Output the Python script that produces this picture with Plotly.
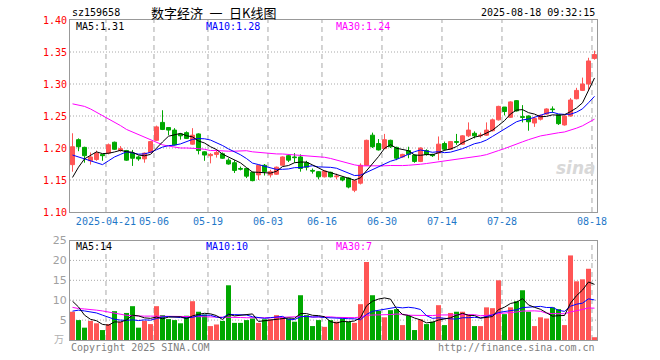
import pandas as pd
import plotly.graph_objects as go

# ---------------- data ----------------
holidays = ["2025-05-01", "2025-05-02", "2025-05-05", "2025-06-02"]
dates = [d.strftime("%Y-%m-%d") for d in pd.bdate_range("2025-04-11", "2025-08-18")
         if d.strftime("%Y-%m-%d") not in holidays]

opens = [1.174, 1.213, 1.201, 1.180, 1.182, 1.190, 1.192, 1.209, 1.196, 1.196,
         1.192, 1.186, 1.183, 1.193, 1.212, 1.240, 1.232, 1.228, 1.222, 1.224,
         1.206, 1.222, 1.194, 1.188, 1.190, 1.191, 1.181, 1.177, 1.168, 1.168,
         1.162, 1.158, 1.173, 1.158, 1.159, 1.173, 1.188, 1.186, 1.186, 1.177,
         1.165, 1.163, 1.155, 1.162, 1.155, 1.154, 1.153, 1.134, 1.145, 1.173,
         1.220, 1.207, 1.199, 1.212, 1.201, 1.186, 1.196, 1.189, 1.179, 1.196,
         1.190, 1.192, 1.207, 1.198, 1.210, 1.206, 1.219, 1.223, 1.219, 1.220,
         1.227, 1.244, 1.264, 1.248, 1.274, 1.249, 1.250, 1.239, 1.245, 1.253,
         1.261, 1.252, 1.236, 1.250, 1.277, 1.290, 1.300, 1.340]
highs = [1.223, 1.215, 1.202, 1.193, 1.196, 1.190, 1.207, 1.210, 1.203, 1.197,
         1.197, 1.188, 1.193, 1.211, 1.235, 1.259, 1.232, 1.231, 1.223, 1.226,
         1.231, 1.223, 1.195, 1.192, 1.198, 1.193, 1.184, 1.181, 1.171, 1.168,
         1.163, 1.174, 1.175, 1.166, 1.171, 1.187, 1.190, 1.192, 1.190, 1.180,
         1.168, 1.164, 1.165, 1.163, 1.160, 1.155, 1.154, 1.150, 1.176, 1.213,
         1.224, 1.214, 1.222, 1.213, 1.202, 1.191, 1.202, 1.190, 1.201, 1.198,
         1.191, 1.218, 1.210, 1.211, 1.222, 1.220, 1.240, 1.226, 1.224, 1.240,
         1.246, 1.266, 1.264, 1.273, 1.275, 1.267, 1.251, 1.249, 1.252, 1.262,
         1.265, 1.252, 1.251, 1.278, 1.294, 1.310, 1.341, 1.352]
lows = [1.163, 1.195, 1.177, 1.174, 1.180, 1.180, 1.190, 1.197, 1.194, 1.180,
        1.172, 1.180, 1.177, 1.192, 1.211, 1.228, 1.220, 1.204, 1.213, 1.214,
        1.205, 1.190, 1.180, 1.176, 1.185, 1.183, 1.174, 1.161, 1.165, 1.153,
        1.148, 1.150, 1.157, 1.154, 1.158, 1.173, 1.178, 1.177, 1.163, 1.165,
        1.160, 1.151, 1.154, 1.154, 1.151, 1.148, 1.137, 1.131, 1.143, 1.173,
        1.200, 1.196, 1.199, 1.200, 1.181, 1.185, 1.184, 1.177, 1.178, 1.188,
        1.186, 1.181, 1.196, 1.197, 1.205, 1.205, 1.217, 1.215, 1.216, 1.219,
        1.226, 1.243, 1.251, 1.247, 1.257, 1.240, 1.227, 1.233, 1.243, 1.252,
        1.255, 1.236, 1.235, 1.249, 1.276, 1.289, 1.291, 1.338]
closes = [1.202, 1.202, 1.188, 1.186, 1.192, 1.188, 1.205, 1.198, 1.199, 1.181,
          1.184, 1.183, 1.192, 1.210, 1.233, 1.229, 1.228, 1.205, 1.219, 1.215,
          1.220, 1.196, 1.189, 1.190, 1.193, 1.184, 1.175, 1.165, 1.167, 1.156,
          1.149, 1.173, 1.163, 1.163, 1.170, 1.186, 1.181, 1.185, 1.168, 1.170,
          1.164, 1.155, 1.164, 1.155, 1.156, 1.150, 1.139, 1.149, 1.173, 1.212,
          1.202, 1.197, 1.213, 1.202, 1.184, 1.190, 1.190, 1.179, 1.200, 1.190,
          1.188, 1.206, 1.198, 1.210, 1.209, 1.219, 1.228, 1.219, 1.220, 1.228,
          1.244, 1.265, 1.257, 1.272, 1.258, 1.248, 1.241, 1.246, 1.251, 1.261,
          1.260, 1.238, 1.250, 1.275, 1.290, 1.300, 1.336, 1.346]
volumes = [7.1, 5.0, 3.1, 4.8, 4.2, 2.5, 4.0, 7.25, 4.6, 6.8,
           8.5, 3.1, 4.8, 4.0, 8.5, 6.25, 5.25, 5.0, 4.2, 6.1,
           9.75, 7.1, 6.4, 3.5, 3.9, 4.8, 13.75, 4.3, 4.3, 5.0,
           5.4, 4.3, 5.2, 5.2, 6.25, 5.7, 5.4, 4.6, 11.25, 6.25,
           3.5, 5.0, 3.3, 5.0, 4.6, 5.4, 4.6, 4.3, 9.0, 19.6,
           11.25, 7.3, 5.7, 7.5, 7.75, 3.75, 6.1, 2.5, 5.2, 4.0,
           4.6, 8.75, 3.75, 6.8, 7.1, 7.1, 6.25, 3.5, 3.5, 8.2,
           8.0, 15.0, 6.5, 8.2, 9.75, 12.5, 7.1, 3.5, 5.7, 5.4,
           8.2, 7.75, 3.75, 21.25, 14.75, 15.25, 17.9, 0.7]

# moving averages at the start of the window (earlier history not shown)
ma5_head = [1.154, 1.170, 1.183, 1.189]
ma10_head = [1.189, 1.186, 1.183, 1.180, 1.177, 1.174, 1.180, 1.186, 1.190]
ma30_head = [1.269, 1.267, 1.265, 1.261, 1.256, 1.251, 1.246, 1.240, 1.235, 1.229,
             1.225, 1.221, 1.217, 1.212, 1.208, 1.205, 1.203, 1.201, 1.200, 1.200,
             1.200, 1.199, 1.198, 1.196, 1.196, 1.195, 1.195, 1.195, 1.195]
vma5_head = [9.75, 8.3, 6.25, 5.2]
vma10_head = [7.25, 7.5, 7.3, 7.1, 6.8, 6.25, 5.7, 5.2, 5.0]
vma30_head = [8.2, 7.9, 7.8, 7.7, 7.5, 7.3, 7.0, 6.7, 6.4, 6.2,
              6.1, 6.0, 6.0, 6.0, 6.0, 6.0, 6.0, 5.95, 5.9, 5.9,
              5.9, 5.9, 5.85, 5.8, 5.8, 5.75, 5.7, 5.7, 5.65]

price_ticks = [1.10, 1.15, 1.20, 1.25, 1.30, 1.35, 1.40]
volume_ticks = [5, 10, 15, 20, 25]
tick_dates = ["2025-04-21", "2025-05-06", "2025-05-19", "2025-06-03", "2025-06-16",
              "2025-06-30", "2025-07-14", "2025-07-28", "2025-08-18"]
tick_labels = ["2025-04-21", "05-06", "05-19", "06-03", "06-16",
               "06-30", "07-14", "07-28", "08-18"]

# ---------------- derived ----------------
def moving(values, n, head):
    s = pd.Series(values).rolling(n).mean().tolist()
    s[:len(head)] = head
    return s

ma5 = moving(closes, 5, ma5_head)
ma10 = moving(closes, 10, ma10_head)
ma30 = moving(closes, 30, ma30_head)
vma5 = moving(volumes, 5, vma5_head)
vma10 = moving(volumes, 10, vma10_head)
vma30 = moving(volumes, 30, vma30_head)

n = len(dates)
xs = list(range(n))
RED = "#ff5555"
GREEN = "#00a800"
up = [c >= o for o, c in zip(opens, closes)]
vol_colors = [RED if u else GREEN for u in up]
tickpos = [dates.index(d) - 0.42 for d in tick_dates]

L, R, T, B = 70, 597, 20, 340
W, H = 660, 360


def px(x):
    return (x - L) / (R - L)


def py(y):
    return (B - y) / (B - T)


fig = go.Figure()
fig.add_trace(go.Candlestick(
    x=xs, open=opens, high=highs, low=lows, close=closes,
    increasing=dict(line=dict(color=RED, width=1), fillcolor=RED),
    decreasing=dict(line=dict(color=GREEN, width=1), fillcolor=GREEN),
    whiskerwidth=0, xaxis="x", yaxis="y", hoverinfo="skip", showlegend=False))
for vals, col in [(ma30, "#ff00ff"), (ma10, "#0000ff"), (ma5, "#000000")]:
    fig.add_trace(go.Scatter(x=xs, y=vals, mode="lines", line=dict(color=col, width=1),
                             xaxis="x", yaxis="y", hoverinfo="skip", showlegend=False))

fig.add_trace(go.Bar(x=xs, y=volumes, width=5 / 6, marker=dict(color=vol_colors, line=dict(width=0)),
                     xaxis="x2", yaxis="y2", hoverinfo="skip", showlegend=False))
for vals, col in [(vma30, "#ff00ff"), (vma10, "#0000ff"), (vma5, "#000000")]:
    fig.add_trace(go.Scatter(x=xs, y=vals, mode="lines", line=dict(color=col, width=1),
                             xaxis="x2", yaxis="y2", hoverinfo="skip", showlegend=False))

xr = [-0.4167, n - 1 + 0.4167]
axis_common = dict(showline=True, linecolor="#999999", linewidth=1, mirror=True, zeroline=False,
                   ticks="", showgrid=False, fixedrange=True)
MONO = "DejaVu Sans Mono"
GRID = "#a8a8a8"

fig.update_layout(
    width=W, height=H,
    margin=dict(l=L, r=W - R, t=T, b=H - B, autoexpand=False),
    paper_bgcolor="white", plot_bgcolor="white",
    boxgap=0.333, boxgroupgap=0,
    showlegend=False, hovermode=False,
    xaxis=dict(domain=[0, 1], range=xr, anchor="y", rangeslider=dict(visible=False),
               tickmode="array", tickvals=tickpos, ticktext=tick_labels, tickangle=0,
               tickfont=dict(family=MONO, size=10, color="#1f78c8"), **axis_common),
    yaxis=dict(domain=[py(212), 1], range=[1.10, 1.40], anchor="x",
               tickmode="array", tickvals=price_ticks,
               ticktext=["%.2f" % v for v in price_ticks],
               tickfont=dict(family=MONO, size=10, color="#ff0000"), **axis_common),
    xaxis2=dict(domain=[0, 1], range=xr, anchor="y2", tickmode="array", tickvals=tickpos,
                showticklabels=False, **axis_common),
    yaxis2=dict(domain=[0, py(240.5)], range=[0, 25], anchor="x2",
                tickmode="array", tickvals=volume_ticks,
                ticktext=[str(v) for v in volume_ticks],
                tickfont=dict(family="DejaVu Sans", size=11, color="#a0a0a0"), **axis_common),
)

# grid lines
for v in price_ticks[1:-1]:
    fig.add_shape(type="line", xref="x domain", yref="y", x0=0, x1=1, y0=v, y1=v,
                  line=dict(color=GRID, width=1, dash="1px,2px"), layer="below")
for v in volume_ticks[:-1]:
    fig.add_shape(type="line", xref="x2 domain", yref="y2", x0=0, x1=1, y0=v, y1=v,
                  line=dict(color=GRID, width=1, dash="1px,2px"), layer="below")
for p in tickpos:
    for xa, ya in [("x", "y domain"), ("x2", "y2 domain")]:
        fig.add_shape(type="line", xref=xa, yref=ya, x0=p, x1=p, y0=0, y1=1,
                      line=dict(color=GRID, width=1, dash="5px,4px"), layer="below")


def note(text, x, y, color="#000000", size=10, family=MONO, xanchor="left", **kw):
    fig.add_annotation(text=text, x=px(x), y=py(y), xref="paper", yref="paper",
                       xanchor=xanchor, yanchor="middle", showarrow=False,
                       font=dict(family=family, size=size, color=color), **kw)


note("sz159658", 70, 13)
note("数字经济\u2002一\u2002日K线图", 213, 12, size=13, family="Noto Sans CJK SC", xanchor="center")
note("2025-08-18 09:32:15", 597, 13, xanchor="right")

note("MA5:1.31", 74, 26.5)
note("MA10:1.28", 204, 26.5, color="#0000ff")
note("MA30:1.24", 334, 26.5, color="#ff00ff")
note("MA5:14", 74, 246)
note("MA10:10", 204, 246, color="#0000ff")
note("MA30:7", 334, 246, color="#ff00ff")

note("万", 66, 338, color="#b0b0b0", size=10, family="Noto Sans CJK SC", xanchor="right")
note("Copyright 2025 SINA.COM", 69, 347, color="#808080")
note("http://finance.sina.com.cn", 597, 347, color="#808080", xanchor="right")
note("<b><i>sina</i></b>", 576, 168, color="#d8d8d8", size=17, family="DejaVu Sans", xanchor="center")

fig.write_html("out.html", config={"displayModeBar": False, "staticPlot": True},
               post_script="document.body.style.margin='0px';")
